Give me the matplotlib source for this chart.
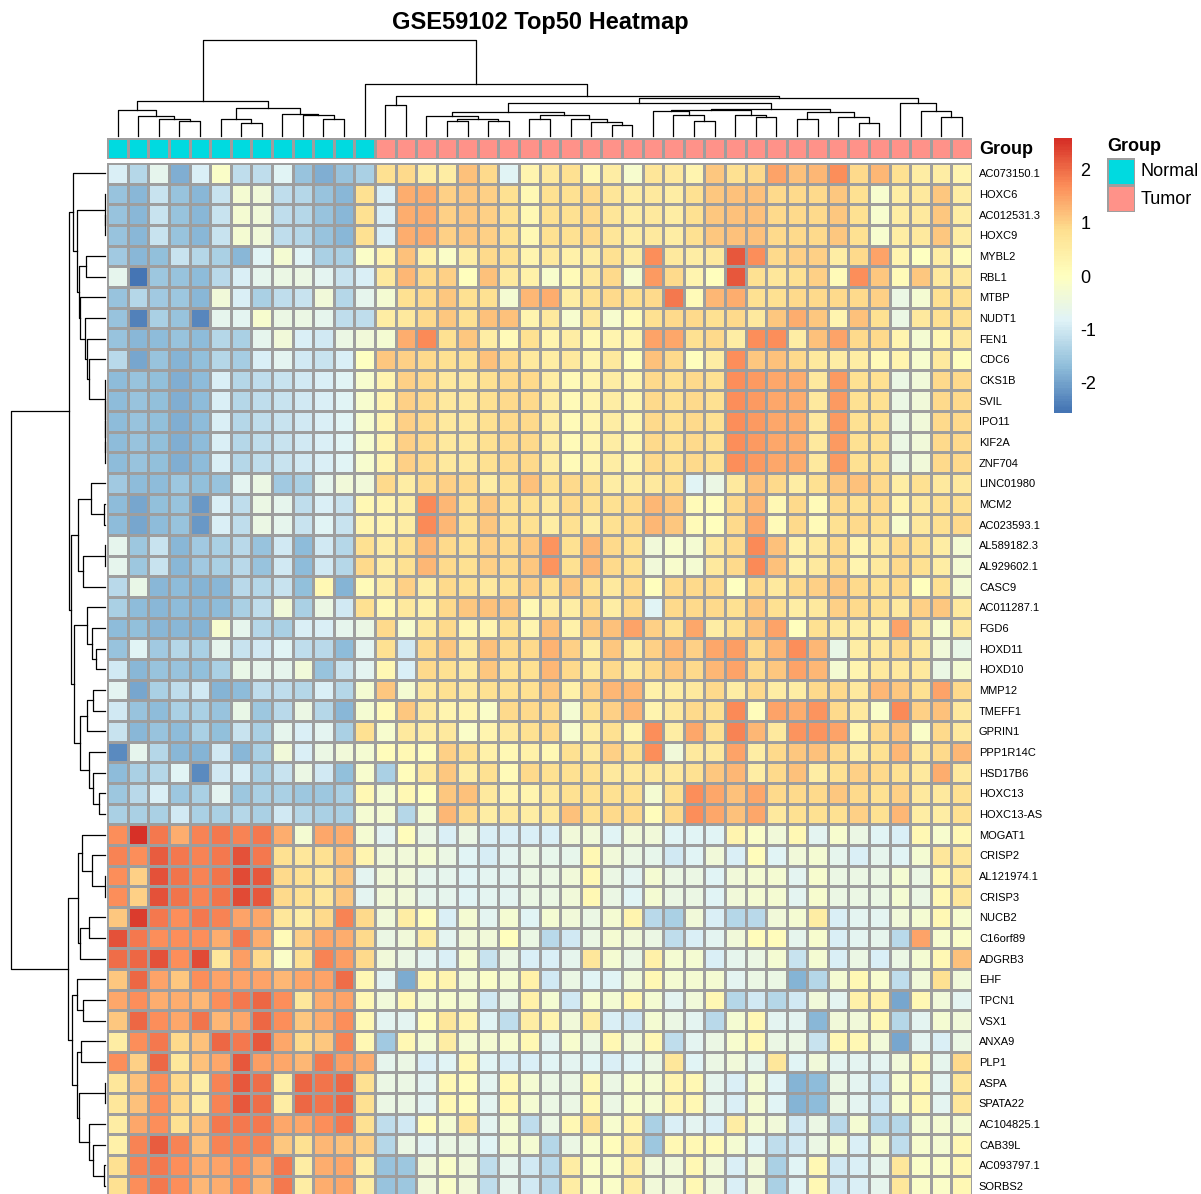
import numpy as np
import matplotlib
matplotlib.use("Agg")
import matplotlib.pyplot as plt
from matplotlib.colors import LinearSegmentedColormap, ListedColormap, Normalize

plt.rcParams['font.family'] = ['Liberation Sans', 'DejaVu Sans']

W, H = 1201, 1194

title = "GSE59102 Top50 Heatmap"

genes = ["AC073150.1", "HOXC6", "AC012531.3", "HOXC9", "MYBL2", "RBL1", "MTBP", "NUDT1",
         "FEN1", "CDC6", "CKS1B", "SVIL", "IPO11", "KIF2A", "ZNF704", "LINC01980", "MCM2",
         "AC023593.1", "AL589182.3", "AL929602.1", "CASC9", "AC011287.1", "FGD6", "HOXD11",
         "HOXD10", "MMP12", "TMEFF1", "GPRIN1", "PPP1R14C", "HSD17B6", "HOXC13", "HOXC13-AS",
         "MOGAT1", "CRISP2", "AL121974.1", "CRISP3", "NUCB2", "C16orf89", "ADGRB3", "EHF",
         "TPCN1", "VSX1", "ANXA9", "PLP1", "ASPA", "SPATA22", "AC104825.1", "CAB39L",
         "AC093797.1", "SORBS2"]

# sample groups in display order (13 Normal, 29 Tumor)
groups = ["Normal"] * 13 + ["Tumor"] * 29
group_colors = {"Normal": "#00DAE0", "Tumor": "#FF9289"}

# scaled expression, one list per gene (display order), 42 samples each
expr = [
    [-0.9, -1.3, -0.7, -1.9, -0.9, -0.1, -1.2, -1.2, -0.8, -1.6, -1.9, -1.6, -1.4, 0.8,
     0.9, 0.5, 0.5, 1.2, 0.9, -0.8, 0.3, 0.6, 0.8, 0.2, 0.5, -0.2, 0.7, 0.6,
     0.3, 1.1, 0.8, 0.9, 1.5, 1.2, 1.3, 1.7, 0.9, 1.3, 0.8, 0.5, 0.5, 0.3],
    [-1.6, -1.8, -1.1, -1.6, -1.8, -1.1, -0.3, -0.4, -1.2, -1.3, -1.6, -1.8, 0.8, -0.9,
     1.4, 1.4, 1.0, 1.1, 1.0, 0.8, 0.2, 0.8, 0.8, 0.9, 0.7, 0.5, 0.6, 0.5,
     0.8, 1.1, 1.2, 1.2, 0.9, 0.9, 0.9, 1.1, 0.8, -0.2, 0.5, 0.6, 1.1, 0.5],
    [-1.6, -1.8, -1.1, -1.6, -1.8, -1.1, -0.3, -0.4, -1.2, -1.3, -1.6, -1.8, 0.8, -0.9,
     1.4, 1.4, 1.0, 1.1, 1.0, 0.8, 0.2, 0.8, 0.8, 0.9, 0.7, 0.5, 0.6, 0.5,
     0.8, 1.1, 1.2, 1.2, 0.9, 0.9, 0.9, 1.1, 0.8, -0.2, 0.5, 0.6, 1.1, 0.5],
    [-1.6, -1.8, -1.1, -1.6, -1.8, -1.1, -0.3, -0.4, -1.2, -1.3, -1.6, -1.8, 0.8, -0.9,
     1.4, 1.4, 1.0, 1.1, 1.0, 0.8, 0.2, 0.8, 0.8, 0.9, 0.7, 0.5, 0.6, 0.5,
     0.8, 1.1, 1.2, 1.2, 0.9, 0.9, 0.9, 1.1, 0.8, -0.2, 0.5, 0.6, 1.1, 0.5],
    [-1.5, -1.8, -1.65, -1.1, -1.3, -1.4, -1.8, -0.8, -0.3, -0.8, -1.4, -1.4, -0.1, 0.3,
     1.2, 0.4, -0.1, 0.5, 0.9, 0.8, 0.3, 0.6, 0.4, 0.5, 0.8, 0.5, 1.7, 0.6,
     0.5, 0.6, 2.2, 1.7, 0.9, 1.0, 1.0, 0.5, 0.9, 1.5, 0.3, 0.0, 0.5, 0.1],
    [-0.7, -2.58, -1.55, -1.6, -1.75, -1.25, -0.9, -0.7, -0.55, -0.55, -0.75, -1.1, -0.9, 0.6,
     1.3, 0.9, 1.0, 0.05, 1.2, 0.6, 0.4, -0.15, 0.15, 0.6, 0.9, -0.2, 1.6, 0.9,
     0.3, 0.05, 2.2, 0.8, 0.65, 0.8, 1.0, 0.15, 1.7, 1.1, 0.15, 1.1, 0.6, 0.6],
    [-1.6, -1.3, -1.5, -1.55, -1.8, -0.4, -0.9, -1.4, -1.2, -1.1, -0.4, -1.3, -0.7, -0.3,
     0.8, 0.9, 1.1, 0.8, 0.8, -0.3, 1.3, 1.4, 0.5, 0.8, 0.9, 0.8, 0.9, 1.9,
     0.15, 1.3, 1.4, 0.8, 0.8, 0.9, 0.9, 0.9, 0.9, 1.0, -0.55, -0.3, 0.8, 0.8],
    [-1.6, -2.4, -1.4, -1.6, -2.35, -0.7, -0.75, -0.2, -0.55, -0.55, -0.7, -1.2, -1.2, 0.5,
     0.6, 0.9, 1.1, 0.8, 1.2, 1.2, 0.3, 0.6, -0.2, 0.6, -0.2, 0.15, 0.8, 0.9,
     0.9, 0.8, 0.9, 0.6, 1.1, 1.4, 1.1, 0.3, 1.2, 0.8, -0.55, 0.6, 0.8, 0.8],
    [-1.6, -1.8, -1.75, -1.6, -1.75, -1.3, -1.4, -0.7, -0.4, -0.9, -1.0, -0.55, -0.4, -0.3,
     1.4, 1.75, 0.8, 1.1, 0.5, 0.15, 0.8, 0.3, 0.5, 0.2, 0.3, 0.3, 1.5, 1.45,
     0.8, 0.9, 0.5, 1.7, 1.7, 0.5, 1.2, 1.5, 0.9, 0.9, 0.3, -0.3, 0.25, 0.6],
    [-1.25, -2.0, -1.6, -1.85, -1.65, -1.3, -1.45, -0.9, -0.75, -1.0, -1.1, -0.9, 0.0, 1.1,
     1.0, 0.9, 0.8, 0.8, 1.2, 0.9, 0.6, 0.5, 0.6, 0.3, 0.6, 0.1, 1.2, 0.9,
     0.05, 0.5, 1.7, 1.1, 1.2, 0.9, 0.6, 0.5, 0.5, 0.15, 0.3, -0.2, 0.6, 0.05],
    [-1.75, -1.6, -1.65, -1.9, -1.75, -0.9, -1.3, -1.2, -1.1, -1.0, -0.9, -0.8, -0.2, 0.3,
     1.0, 0.9, 0.6, 0.6, 0.8, 0.9, 0.9, 0.5, 0.15, 0.3, 0.5, 0.3, 0.9, 0.8,
     0.9, 0.8, 1.7, 1.6, 1.45, 1.4, 0.6, 1.6, 0.8, 0.8, -0.55, -0.4, 0.9, 0.9],
    [-1.75, -1.6, -1.65, -1.9, -1.75, -0.9, -1.3, -1.2, -1.1, -1.0, -0.9, -0.8, -0.2, 0.3,
     1.0, 0.9, 0.6, 0.6, 0.8, 0.9, 0.9, 0.5, 0.15, 0.3, 0.5, 0.3, 0.9, 0.8,
     0.9, 0.8, 1.7, 1.6, 1.45, 1.4, 0.6, 1.6, 0.8, 0.8, -0.55, -0.4, 0.9, 0.9],
    [-1.75, -1.6, -1.65, -1.9, -1.75, -0.9, -1.3, -1.2, -1.1, -1.0, -0.9, -0.8, -0.2, 0.3,
     1.0, 0.9, 0.6, 0.6, 0.8, 0.9, 0.9, 0.5, 0.15, 0.3, 0.5, 0.3, 0.9, 0.8,
     0.9, 0.8, 1.7, 1.6, 1.45, 1.4, 0.6, 1.6, 0.8, 0.8, -0.55, -0.4, 0.9, 0.9],
    [-1.75, -1.6, -1.65, -1.9, -1.75, -0.9, -1.3, -1.2, -1.1, -1.0, -0.9, -0.8, -0.2, 0.3,
     1.0, 0.9, 0.6, 0.6, 0.8, 0.9, 0.9, 0.5, 0.15, 0.3, 0.5, 0.3, 0.9, 0.8,
     0.9, 0.8, 1.7, 1.6, 1.45, 1.4, 0.6, 1.6, 0.8, 0.8, -0.55, -0.4, 0.9, 0.9],
    [-1.75, -1.6, -1.65, -1.9, -1.75, -0.9, -1.3, -1.2, -1.1, -1.0, -0.9, -0.8, -0.2, 0.3,
     1.0, 0.9, 0.6, 0.6, 0.8, 0.9, 0.9, 0.5, 0.15, 0.3, 0.5, 0.3, 0.9, 0.8,
     0.9, 0.8, 1.7, 1.6, 1.45, 1.4, 0.6, 1.6, 0.8, 0.8, -0.55, -0.4, 0.9, 0.9],
    [-1.5, -1.75, -1.75, -1.55, -1.65, -1.6, -0.75, -0.55, -1.5, -1.4, -0.7, -0.4, -0.4, 0.9,
     0.5, 0.9, 1.0, 0.9, 0.5, 0.8, 1.2, 0.8, 0.9, 0.8, 0.5, 0.5, 0.6, 0.8,
     -0.8, -0.55, 0.6, 1.2, 0.9, 0.5, 0.8, 1.1, 1.15, 0.9, 0.5, 0.8, 0.6, 0.6],
    [-1.75, -2.0, -1.65, -1.6, -2.15, -0.9, -1.2, -0.55, -0.7, -1.2, -0.9, -1.1, 0.2, 0.3,
     0.5, 1.75, 1.3, 0.8, 1.1, 0.8, 0.8, 0.6, 0.9, 0.8, 0.8, 0.9, 1.3, 1.1,
     0.15, 0.1, 0.9, 1.3, 0.2, 0.9, 0.15, 0.9, 0.8, 0.9, 0.3, 0.6, 0.8, 0.8],
    [-1.75, -2.0, -1.75, -1.6, -2.15, -0.9, -1.2, -0.55, -0.7, -1.1, -0.8, -1.1, 0.3, 0.3,
     0.5, 1.75, 1.3, 0.8, 1.1, 0.8, 0.8, 0.5, 0.8, 0.5, 0.8, 0.9, 1.3, 1.1,
     0.15, 0.05, 0.9, 1.45, 0.15, 0.9, 0.15, 0.8, 0.9, 0.8, -0.15, 0.6, 0.8, 0.9],
    [-0.7, -1.55, -1.1, -1.8, -1.5, -1.4, -1.25, -1.6, -1.0, -1.75, -1.0, -1.3, 0.8, 0.5,
     0.8, 1.3, 0.9, 0.8, 1.0, 0.9, 1.1, 1.65, 0.8, 1.3, 0.9, 0.8, -0.4, -0.15,
     -0.3, 0.6, 0.9, 1.75, 1.2, 0.4, 0.6, 0.9, 0.3, 0.6, 0.9, 0.8, 0.5, -0.3],
    [-0.7, -1.55, -1.1, -1.8, -1.5, -1.4, -1.25, -1.6, -1.0, -1.75, -1.0, -1.3, 0.9, 0.5,
     0.8, 1.3, 0.9, 0.8, 1.0, 0.9, 1.1, 1.65, 0.8, 1.3, 0.9, 0.8, -0.4, -0.15,
     -0.3, 0.6, 0.9, 1.75, 1.2, 0.4, 0.6, 0.9, 0.3, 0.6, 0.9, 0.8, 0.5, -0.3],
    [-1.25, -0.6, -1.8, -1.75, -1.85, -1.8, -1.25, -1.3, -1.1, -1.65, 0.2, -1.85, 0.15, 0.5,
     1.0, 0.5, 0.9, 0.8, 0.6, 0.8, 1.0, 0.8, 1.1, 0.8, 0.6, 0.9, 0.05, 0.9,
     0.9, 0.9, 0.0, 0.9, 0.6, 0.9, 1.0, 1.1, 0.9, 0.8, 0.9, 0.05, 0.8, -0.3],
    [-1.4, -1.75, -1.8, -1.75, -1.8, -1.75, -1.4, -1.2, -0.4, -1.4, -0.55, -1.0, 0.8, 0.2,
     0.6, 0.4, 0.9, 1.1, 1.2, 1.1, 0.2, 0.5, 0.5, 0.9, 0.5, 0.9, -0.8, 0.9,
     0.9, 0.9, 0.8, 1.1, 0.8, 0.5, 0.6, 1.0, 0.9, 0.8, 0.6, 1.0, 1.1, 0.6],
    [-1.75, -1.65, -1.8, -1.8, -1.85, -0.2, -0.7, -1.3, -1.4, -0.9, -0.9, -0.7, -0.55, 0.9,
     -0.2, 0.6, 0.9, 0.3, 0.3, 0.8, 0.3, 1.2, 0.4, 1.1, 1.2, 1.5, 1.0, 0.8,
     1.45, 0.5, 0.8, 1.2, 1.5, 0.05, 0.8, 0.6, 0.5, 0.4, 1.5, 0.6, -0.2, 0.6],
    [-1.6, -0.8, -1.5, -1.3, -1.4, -0.7, -1.1, -1.0, -0.8, -1.2, -1.25, -1.75, -0.75, 0.8,
     -1.0, 0.9, 1.1, 0.6, 1.2, 0.9, 0.9, 1.35, 1.0, 0.5, 1.1, 0.6, 1.0, 1.3,
     1.0, 1.45, 1.55, 0.9, 1.3, 1.7, 1.3, -0.6, 0.5, 0.6, 0.9, 0.6, -0.4, -0.6],
    [-1.0, -1.8, -1.6, -1.6, -1.65, -1.4, -0.6, -0.7, -0.7, -0.4, -1.6, -1.1, -0.75, 0.2,
     -0.9, 0.9, 0.8, 0.6, 1.1, 0.8, 0.8, 1.3, 0.9, 0.6, 0.9, 0.6, 0.9, 1.1,
     0.9, 1.3, 1.5, 0.9, 1.1, 1.5, 1.3, -0.3, 0.3, 0.6, 0.6, 0.6, -0.55, -0.3],
    [-0.75, -2.0, -1.4, -1.2, -1.0, -1.85, -1.75, -1.2, -1.2, -1.3, -0.9, -1.3, -0.3, 1.1,
     -0.3, 0.6, 0.8, 0.6, 0.8, 0.8, 0.8, 1.1, 0.4, 1.0, 1.3, 1.3, 0.4, 0.5,
     0.6, 0.9, 0.5, 0.9, 0.5, 0.5, 0.9, 0.9, 0.6, 1.3, 1.1, 0.8, 1.5, 0.9],
    [-1.0, -1.6, -1.75, -1.4, -1.4, -1.6, -0.6, -1.55, -1.25, -0.55, -1.3, -1.8, -0.3, 0.15,
     1.1, 0.6, 0.3, 0.3, -0.1, 0.9, 0.9, 0.9, -0.3, 0.8, 1.0, 1.3, 0.3, 0.6,
     0.9, 0.8, 1.75, 0.1, 1.5, 1.4, 1.65, 0.9, 0.6, -0.1, 1.75, 1.0, 1.2, 0.6],
    [-1.1, -1.8, -1.6, -1.75, -1.4, -1.65, -1.1, -1.4, -0.7, -0.9, -0.75, -1.4, 0.8, -0.2,
     0.6, 0.5, 0.6, -0.1, 0.3, 0.6, 0.8, 0.9, -0.2, 0.5, 0.8, 0.3, 1.7, 0.5,
     1.45, 0.8, 1.8, 1.3, 0.6, 1.65, 1.65, 1.5, 0.25, 0.9, 1.2, -0.1, 0.9, 0.6],
    [-2.3, -0.7, -1.3, -1.8, -1.85, -1.0, -1.8, -1.4, -0.4, -0.9, -0.55, -0.4, -0.3, 0.1,
     0.2, 0.1, 1.0, 0.8, 0.4, 0.2, 0.4, 0.2, 0.8, 0.6, 1.0, 0.8, 1.7, -0.4,
     0.6, 0.6, 1.5, 0.5, 0.9, 1.1, 1.2, 0.9, 0.5, 0.8, 1.3, 0.6, 0.9, 1.3],
    [-1.75, -1.4, -1.3, -0.8, -2.3, -1.0, -0.9, -1.4, -1.1, -0.55, -1.0, -1.65, -0.2, -1.4,
     0.1, 0.6, 1.1, 0.5, 0.8, 0.15, 0.9, 0.8, 0.8, 0.8, 0.6, 0.6, 0.6, 0.6,
     0.8, 1.1, 1.3, 0.5, 0.9, 1.2, 0.5, 0.8, 1.0, 0.9, 0.8, 0.6, 1.4, 0.6],
    [-1.55, -1.25, -0.9, -1.55, -1.4, -0.75, -1.55, -1.4, -1.4, -1.55, -1.55, -1.4, 0.2, -0.3,
     0.2, 0.05, 1.1, 1.2, 0.6, 0.3, 0.3, 0.6, 0.8, 0.8, 0.8, 0.8, -0.3, 0.8,
     1.7, 1.45, 1.2, 1.45, 0.9, 0.9, 0.9, 1.1, 0.9, 0.8, 1.0, 0.6, 0.6, 0.8],
    [-1.4, -1.4, -1.4, -1.0, -1.4, -1.4, -1.3, -1.4, -1.0, -1.3, -1.4, -1.4, -0.3, -0.3,
     -1.3, -0.3, 1.3, 0.9, 0.5, 0.6, 0.5, 0.6, 1.2, 0.8, 0.9, 0.9, 0.1, 0.9,
     1.7, 1.45, 1.2, 1.45, 0.6, 0.8, 0.8, 0.8, 1.0, 0.8, 1.3, 0.5, 0.5, 0.8],
    [1.7, 2.6, 1.9, 1.4, 1.8, 1.9, 1.8, 1.9, 1.4, -0.3, 1.45, 1.4, -0.3, -0.75,
     0.1, -0.55, -0.9, -0.55, -0.9, -0.9, -0.9, -0.9, -0.4, -0.4, -0.8, -0.4, -0.4, -0.8,
     -0.8, -0.8, 0.3, -0.1, -0.4, 0.2, -0.75, -0.2, -0.55, -0.8, -0.9, 0.2, -0.2, 0.2],
    [1.8, 1.7, 2.15, 1.9, 1.8, 1.9, 2.25, 1.9, 0.8, 0.65, 0.8, 1.2, 0.3, -0.4,
     -0.4, -0.3, -0.55, -0.8, -0.95, -0.75, -0.55, -0.65, -0.65, 0.2, -0.4, -0.55, -0.65, -1.0,
     -0.8, -0.4, -0.9, 0.1, -0.8, -0.4, -0.3, -0.7, -0.9, -0.7, -0.8, -0.3, 0.65, 0.65],
    [1.7, 1.0, 2.25, 1.95, 1.8, 1.95, 2.3, 2.2, 0.9, 0.8, 0.65, 1.1, -0.75, -0.4,
     -0.4, -0.7, -0.7, -0.8, -0.75, -0.75, -0.55, -0.55, -0.4, 0.2, -0.55, -0.75, -0.3, -0.55,
     -0.55, -0.8, -0.4, -0.3, -0.3, -0.75, -0.2, -0.55, -0.55, -0.55, -0.3, -0.55, 0.2, 0.65],
    [1.7, 1.0, 2.25, 1.95, 1.8, 1.95, 2.3, 2.2, 0.9, 0.8, 0.65, 1.1, -0.75, -0.4,
     -0.4, -0.7, -0.7, -0.8, -0.75, -0.75, -0.55, -0.55, -0.4, 0.2, -0.55, -0.8, -0.3, -0.55,
     -0.55, -0.8, -0.4, -0.3, -0.3, -0.75, -0.2, -0.55, -0.55, -0.55, -0.3, -0.55, 0.2, 0.65],
    [1.1, 2.45, 1.9, 1.7, 1.9, 1.8, 1.5, 1.45, 0.65, 0.5, 0.9, 1.8, 0.9, -0.4,
     0.5, 0.1, -0.9, -0.3, -0.75, -0.3, -0.8, -0.3, -0.4, -0.55, -0.3, 0.3, -1.25, -1.4,
     -0.4, -0.9, -1.3, -1.25, -0.4, -0.3, 0.5, -0.9, -0.75, -0.75, -0.4, -0.3, 0.2, -0.2],
    [2.25, 1.9, 1.7, 1.7, 1.7, 1.4, 1.9, 1.4, 0.15, 1.0, 1.45, 1.4, 0.9, -0.55,
     -0.4, 0.5, -0.75, -0.4, -0.4, 0.05, -0.55, -1.25, -1.0, -0.55, -0.3, -0.4, -0.55, -1.2,
     -0.9, -0.75, -0.4, 0.1, 0.1, -0.7, -0.2, -0.9, -0.75, -0.7, -1.25, 1.5, -0.2, -0.1],
    [2.0, 2.05, 2.25, 1.7, 2.3, 0.65, 1.55, 0.9, -0.1, 0.8, 1.8, 1.55, 0.9, -0.4,
     -0.55, -0.75, -0.9, -0.3, -1.1, -0.55, -0.9, -0.9, -0.7, 0.65, -0.3, -0.55, 0.4, -0.3,
     -0.3, -0.9, -0.7, -0.55, -0.3, -1.1, -0.3, -0.9, -0.55, -0.9, -0.55, -0.3, 0.2, 1.15],
    [1.1, 2.05, 1.5, 1.1, 1.7, 1.5, 1.5, 1.5, 1.3, 1.45, 1.5, 2.0, 0.2, -0.75,
     -1.95, 0.2, 0.3, -0.3, -0.1, -0.3, 0.4, -1.0, -0.55, -0.8, -0.8, -0.4, 0.2, -0.3,
     -0.3, -0.3, -0.75, -0.55, -0.55, -1.85, -1.3, -0.3, 0.2, -0.2, -1.2, -0.4, 0.8, -0.4],
    [1.45, 1.7, 1.4, 1.4, 1.3, 1.7, 1.9, 2.05, 1.7, 0.65, 1.4, 1.5, 0.2, -0.4,
     0.2, -0.3, -0.2, -0.3, -1.0, -0.55, 0.4, -0.3, -1.0, -0.2, -0.3, 0.2, -0.3, -0.75,
     -0.4, 0.2, -1.3, -1.0, -1.3, -1.0, -0.4, -0.75, 0.4, 0.4, -2.0, 0.2, -0.4, -0.75],
    [1.1, 2.05, 1.7, 1.45, 1.95, 1.3, 1.45, 2.05, 1.7, 1.1, 1.4, 1.7, 0.2, -0.75,
     -0.75, 0.1, 0.65, 0.3, -0.8, -1.2, 0.5, 0.3, -0.4, 0.5, -0.9, -1.0, -0.3, -0.55,
     -0.75, -1.25, -0.3, 0.2, -0.75, -0.75, -1.8, -0.4, -0.4, 0.2, -1.3, -0.75, -0.3, -0.4],
    [0.5, 1.7, 1.9, 0.9, 1.2, 2.05, 1.9, 2.2, 1.45, 0.9, 1.1, 1.8, 0.2, -1.5,
     0.2, -0.3, 0.5, -0.3, -0.3, -0.2, 0.2, -0.75, -0.2, -0.55, 0.2, -0.4, 0.2, -1.2,
     -0.75, -0.55, -0.2, 0.2, -0.55, -0.55, -1.1, 0.2, 0.2, -0.4, -2.0, -0.75, -0.9, -0.55],
    [1.7, 1.0, 2.05, 0.65, 1.2, 1.45, 2.2, 1.55, 1.45, 1.3, 1.9, 1.55, 1.4, -0.7,
     -0.55, -0.9, -0.8, 0.2, -0.8, -0.9, -0.9, -0.8, -0.75, -0.8, -0.9, -0.8, -0.55, 0.65,
     -0.8, -0.55, -0.4, -0.7, 0.65, -0.8, -0.4, -0.75, -0.75, -0.75, -0.4, 0.2, -0.7, 0.9],
    [0.65, 1.2, 1.7, 0.9, 0.5, 1.8, 2.2, 2.0, 0.5, 2.05, 1.95, 2.05, 0.8, -0.55,
     -0.55, -0.75, 0.2, 0.1, -0.75, 0.2, -0.3, -0.55, -0.55, 0.2, -0.55, -0.2, -0.3, 0.3,
     0.2, -0.7, -0.9, -0.3, -0.8, -1.85, -1.75, -0.55, -0.75, -1.0, -0.2, 0.2, -0.75, 0.65],
    [0.65, 1.2, 1.7, 0.9, 0.5, 1.8, 2.2, 2.0, 0.5, 2.05, 1.95, 2.05, 0.8, -0.55,
     -0.55, -0.75, 0.2, 0.1, -0.75, 0.2, -0.3, -0.55, -0.55, 0.2, -0.55, -0.2, -0.3, 0.3,
     0.2, -0.7, -0.9, -0.3, -0.8, -1.85, -1.75, -0.55, -0.75, -1.0, -0.2, 0.2, -0.75, 0.65],
    [0.5, 1.45, 1.7, 0.8, 1.2, 1.9, 1.9, 1.9, 1.45, 1.45, 1.7, 1.9, 0.8, -1.2,
     -1.0, 0.1, -0.3, 0.65, -0.75, -0.3, -1.2, -0.55, 0.2, 0.8, -0.2, 0.3, -1.4, -0.9,
     -0.75, -0.9, 0.5, -0.3, -0.4, -1.0, -0.55, -1.25, -0.3, -1.25, -1.3, -0.3, -0.3, -0.3],
    [0.4, 1.8, 2.15, 1.8, 1.2, 1.8, 1.8, 1.8, 1.1, 0.8, 1.3, 1.2, 1.0, -1.3,
     -0.55, -0.75, -0.55, -0.55, -0.8, -0.3, -0.3, -1.3, -0.55, -0.2, 0.1, 0.5, -1.55, 0.2,
     0.2, 0.15, -0.3, -0.8, -1.2, -1.0, -0.55, -0.3, -0.9, -0.3, -1.2, -0.2, -0.3, 0.2],
    [0.8, 1.8, 1.9, 1.7, 1.4, 1.5, 1.7, 1.4, 1.9, 0.5, 1.4, 1.45, 0.5, -1.6,
     -1.55, -0.4, -0.1, -0.4, -1.2, -0.7, -1.0, -1.25, 0.5, -0.1, -0.1, 0.5, -0.4, -0.4,
     0.2, -0.4, -0.9, -0.4, -1.4, -0.8, 0.2, -1.0, -0.9, -0.7, 0.65, -0.1, -0.1, 0.2],
    [0.8, 1.7, 1.9, 1.7, 1.3, 1.4, 1.7, 1.3, 1.9, 0.5, 1.4, 1.45, 0.5, -1.6,
     -1.55, -0.4, -0.1, -0.4, -1.2, -0.7, -1.0, -1.25, 0.5, -0.1, -0.1, 0.5, -0.4, -0.4,
     0.2, -0.4, -0.9, -0.4, -1.4, -0.8, 0.2, -1.0, -0.9, -0.7, 0.65, -0.1, -0.1, 0.2],
]

# dendrograms as nested [left, right, height]; leaves are row / column indices
row_tree = [
    [[0, [[1, [2, 3, 0.2], 0.4],
          [[4, 5, 18.7],
           [6, [7, [8, [9, [10, [11, [12, [13, 14, 0.1], 0.2], 0.3], 0.4], 15.7], 17.7], 20.0], 25.0],
           26.0], 28.3], 32.3],
     [[[15, [16, 17, 1.0], 13.7], [[18, 19, 0.2], 20, 21.7], 27.3],
      [[21, [22, [23, 24, 9.0], 12.7], 17.7],
       [[[25, 26, 12.0], 27, 18.0], [28, [29, [30, 31, 6.0], 12.0], 16.0], 25.0], 31.0], 34.3],
     35.7],
    [[[32, [33, [34, 35, 0.2], 12.7], 22.7], [[36, 37, 15.7], 38, 25.0], 27.3],
     [[39, [40, 41, 22.3], 27.7],
      [[42, 43, 23.7], [[44, 45, 0.2], [46, [47, [48, 49, 1.0], 12.0], 15.7], 25.7], 28.3], 33.3],
     37.3],
    94.0]

col_tree = [
    [[0, [1, [2, [3, 4, 14.0], 16.7], 19.3], 25.0],
     [[5, [6, 7, 12.7], 16.7], [8, [9, [10, 11, 16.0], 20.0], 21.0], 27.0], 34.0],
    [12,
     [[13, 14, 30.0],
      [[[[15, [[16, 17, 14.0], [18, 19, 14.7], 16.7], 19.3],
          [[20, 21, 16.0], [22, [23, [24, 25, 10.3], 13.3], 16.0], 20.3], 23.7],
         [[[26, [27, [28, 29, 14.0], 20.0], 24.3], [30, [31, 32, 18.7], 20.0], 25.0],
          [[33, 34, 16.0], [35, [36, 37, 12.7], 18.7], 23.3], 26.5], 32.0],
        [38, [39, [40, 41, 18.3], 24.3], 32.7], 37.7], 39.3], 51.0],
    95.0]

mat = np.array(expr)
nrow, ncol = mat.shape

pal = ["#4575B4", "#91BFDB", "#E0F3F8", "#FFFFBF", "#FEE090", "#FC8D59", "#D73027"]
cmap = ListedColormap(LinearSegmentedColormap.from_list("rdylbu", pal)(np.linspace(0, 1, 100)))
norm = Normalize(vmin=mat.min(), vmax=mat.max())


def px(x0, y0, x1, y1):
    # pixel box -> figure fraction rect
    return [x0 / W, 1 - y1 / H, (x1 - x0) / W, (y1 - y0) / H]


def draw_tree(ax, node, side):
    if isinstance(node, int):
        return node + 0.5, 0.0
    p1, h1 = draw_tree(ax, node[0], side)
    p2, h2 = draw_tree(ax, node[1], side)
    h = node[2]
    if side == "top":
        ax.plot([p1, p1, p2, p2], [h1, h, h, h2], color="black", lw=0.9, clip_on=False)
    else:
        ax.plot([h1, h, h, h2], [p1, p1, p2, p2], color="black", lw=0.9, clip_on=False)
    return (p1 + p2) / 2, h


fig = plt.figure(figsize=(W / 100, H / 100), dpi=100)

hm_x0, hm_x1 = 107.3, 972.0
hm_y0 = 163.0
cell_h = 20.67
hm_y1 = hm_y0 + nrow * cell_h

# heatmap
ax = fig.add_axes(px(hm_x0, hm_y0, hm_x1, hm_y1))
ax.pcolormesh(np.arange(ncol + 1), np.arange(nrow + 1), mat, cmap=cmap, norm=norm,
              edgecolors="#9E9E9E", linewidth=0.8)
ax.set_xlim(0, ncol)
ax.set_ylim(nrow, 0)
ax.yaxis.tick_right()
ax.set_yticks(np.arange(nrow) + 0.5)
ax.set_yticklabels(genes, fontsize=8)
ax.tick_params(axis="y", length=0, pad=5)
ax.set_xticks([])
for s in ax.spines.values():
    s.set_visible(False)

# annotation bar
ax_ann = fig.add_axes(px(hm_x0, 138.0, hm_x1, 158.6))
codes = np.array([[0 if g == "Normal" else 1 for g in groups]])
ax_ann.pcolormesh(np.arange(ncol + 1), [0, 1], codes,
                  cmap=ListedColormap([group_colors["Normal"], group_colors["Tumor"]]),
                  vmin=0, vmax=1, edgecolors="#9E9E9E", linewidth=0.8)
ax_ann.set_xlim(0, ncol)
ax_ann.set_ylim(0, 1)
ax_ann.axis("off")
fig.text(979 / W, 1 - 150 / H, "Group", fontsize=13, fontweight="bold", ha="left", va="center")

# column dendrogram
ax_ct = fig.add_axes(px(hm_x0, 40.0, hm_x1, 135.5))
draw_tree(ax_ct, col_tree, "top")
ax_ct.set_xlim(0, ncol)
ax_ct.set_ylim(0, col_tree[2])
ax_ct.axis("off")

# row dendrogram
ax_rt = fig.add_axes(px(11.0, hm_y0, 105.0, hm_y1))
draw_tree(ax_rt, row_tree, "left")
ax_rt.set_xlim(row_tree[2], 0)
ax_rt.set_ylim(nrow, 0)
ax_rt.axis("off")

# colour key
ax_cb = fig.add_axes(px(1054, 138, 1072, 413))
grad = np.linspace(norm.vmin, norm.vmax, 256).reshape(-1, 1)
ax_cb.imshow(grad, cmap=cmap, norm=norm, aspect="auto", origin="lower",
             extent=(0, 1, norm.vmin, norm.vmax))
ax_cb.set_xticks([])
ax_cb.yaxis.tick_right()
ax_cb.set_yticks([2, 1, 0, -1, -2])
ax_cb.set_yticklabels(["2", "1", "0", "-1", "-2"], fontsize=13)
ax_cb.tick_params(axis="y", length=0, pad=6)
for s in ax_cb.spines.values():
    s.set_visible(False)

# group legend
fig.text(1107 / W, 1 - 146.5 / H, "Group", fontsize=13, fontweight="bold", ha="left", va="center")
ax_lg = fig.add_axes(px(1107, 158, 1135, 212))
ax_lg.pcolormesh([0, 1], [0, 1, 2], np.array([[0], [1]]),
                 cmap=ListedColormap([group_colors["Normal"], group_colors["Tumor"]]),
                 vmin=0, vmax=1, edgecolors="#9E9E9E", linewidth=0.8)
ax_lg.set_xlim(0, 1)
ax_lg.set_ylim(2, 0)
ax_lg.axis("off")
for i, g in enumerate(["Normal", "Tumor"]):
    fig.text(1141 / W, 1 - (172 + 27 * i) / H, g, fontsize=13, ha="left", va="center")

fig.text(540 / W, 1 - 23 / H, title, fontsize=17, fontweight="bold", ha="center", va="center")

fig.savefig("out.png", dpi=100)
